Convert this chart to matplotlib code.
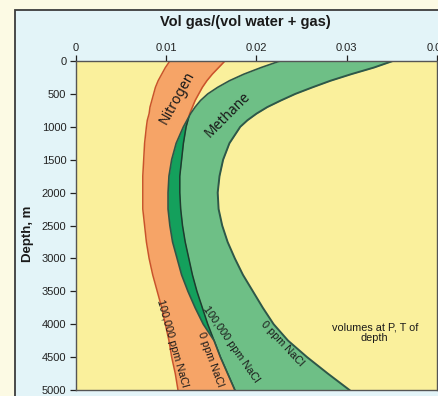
import matplotlib
matplotlib.use("Agg")
import matplotlib.pyplot as plt
from matplotlib.patches import Rectangle
import numpy as np

# Depth (m) and gas volume fraction at that depth for each curve
depth = [0, 100, 200, 300, 400, 500, 600, 700, 800, 900, 1000, 1250, 1500,
         1750, 2000, 2250, 2500, 2750, 3000, 3250, 3500, 3750, 4000, 4250,
         4500, 4750, 5000]
n2_salt = [0.0104, 0.0099, 0.0095, 0.0091, 0.0088, 0.0086, 0.0084, 0.0082,
           0.0081, 0.0079, 0.0078, 0.0076, 0.0075, 0.0074, 0.0074, 0.0074,
           0.0076, 0.0078, 0.0081, 0.0085, 0.0090, 0.0095, 0.0099, 0.0103,
           0.0106, 0.0110, 0.0113]
n2_fresh = [0.0165, 0.0158, 0.0151, 0.0145, 0.0140, 0.0136, 0.0132, 0.0129,
            0.0126, 0.0124, 0.0122, 0.0119, 0.0117, 0.0115, 0.0115, 0.0116,
            0.0118, 0.0121, 0.0125, 0.0129, 0.0134, 0.0140, 0.0146, 0.0153,
            0.0160, 0.0168, 0.0176]
ch4_salt = [0.0226, 0.0205, 0.0186, 0.0170, 0.0157, 0.0146, 0.0138, 0.0132,
            0.0127, 0.0123, 0.0119, 0.0111, 0.0106, 0.0103, 0.0102, 0.0102,
            0.0104, 0.0107, 0.0112, 0.0117, 0.0124, 0.0132, 0.0141, 0.0153,
            0.0160, 0.0168, 0.0176]
ch4_fresh = [0.0351, 0.0330, 0.0305, 0.0282, 0.0262, 0.0243, 0.0227, 0.0212,
             0.0200, 0.0190, 0.0182, 0.0170, 0.0163, 0.0159, 0.0157, 0.0158,
             0.0162, 0.0168, 0.0176, 0.0185, 0.0196, 0.0207, 0.0219, 0.0235,
             0.0256, 0.0279, 0.0303]

x_ticks = [0, 0.01, 0.02, 0.03, 0.04]
x_tick_labels = ["0", "0.01", "0.02", "0.03", "0.04"]
y_ticks = [0, 500, 1000, 1500, 2000, 2500, 3000, 3500, 4000, 4500, 5000]

plt.rcParams['font.family'] = ['Liberation Sans', 'DejaVu Sans']

W, H = 439, 396
fig = plt.figure(figsize=(W / 100, H / 100), dpi=100, facecolor='#FCFAE4')

# light blue panel behind the chart
panel = Rectangle((15 / W, -0.1), 1.0, 1 - 10 / H + 0.1,
                  transform=fig.transFigure, facecolor='#E3F4F8',
                  edgecolor='#3C3C3C', lw=1.3, zorder=-5)
fig.patches.append(panel)

ax = fig.add_axes([76 / W, 6 / H, (437 - 76) / W, (390 - 61) / H])
ax.set_zorder(5)
ax.set_facecolor('#FAF09C')
ax.set_xlim(0, 0.04)
ax.set_ylim(5000, 0)

orange = '#F6A467'
n2_edge = '#C9532C'
green = '#6EBF86'
dark_green = '#14A05C'
ch4_edge = '#2E5748'

ax.fill_betweenx(depth, n2_salt, n2_fresh, color=orange, lw=0, zorder=1)
ax.plot(n2_salt, depth, color=n2_edge, lw=1.1, zorder=2)
ax.plot(n2_fresh, depth, color=n2_edge, lw=1.1, zorder=2)

ch4_band = ax.fill_betweenx(depth, ch4_salt, ch4_fresh, color=green, lw=0,
                            zorder=3)
cs = np.array(ch4_salt)
nf = np.array(n2_fresh)
ax.fill_betweenx(depth, cs, nf, where=cs < nf, interpolate=True,
                 color=dark_green, lw=0, zorder=4)
inner, = ax.plot(n2_fresh, depth, color='#1F3B2E', lw=1.1, zorder=5)
inner.set_clip_path(ch4_band.get_paths()[0], ax.transData)
ax.plot(ch4_salt, depth, color=ch4_edge, lw=1.2, zorder=6)
ax.plot(ch4_fresh, depth, color=ch4_edge, lw=1.4, zorder=6)

for s in ax.spines.values():
    s.set_color('#555555')
    s.set_linewidth(1.0)
    s.set_zorder(7)

ax.xaxis.tick_top()
ax.set_xticks(x_ticks)
ax.set_xticklabels(x_tick_labels)
ax.set_yticks(y_ticks)
ax.set_yticklabels([str(v) for v in y_ticks])
ax.tick_params(axis='both', labelsize=8, colors='#222222', length=4,
               width=0.9, pad=3, direction='out')
ax.tick_params(axis='x', pad=2)

fig.text(245 / W, 1 - 22 / H, 'Vol gas/(vol water + gas)', ha='center',
         va='center', fontsize=10.5, fontweight='bold', color='#1A1A1A')
fig.text(28 / W, 1 - 234 / H, 'Depth, m', ha='center', va='center',
         rotation=90, fontsize=9.5, fontweight='bold', color='#1A1A1A')

hand = ['Noto Sans', 'DejaVu Sans']
ax.text(0.0112, 560, 'Nitrogen', rotation=61, ha='center', va='center',
        fontsize=10, family=hand, color='#1A1A1A', zorder=8)
ax.text(0.0168, 820, 'Methane', rotation=45, ha='center', va='center',
        fontsize=10, family=hand, color='#1A1A1A', zorder=8)

lab = dict(ha='center', va='center', fontsize=7.8, color='#1A1A1A', zorder=8)
ax.text(0.0107, 4290, '100,000 ppm NaCl', rotation=-74, **lab)
ax.text(0.0149, 4540, '0 ppm NaCl', rotation=-70, **lab)
ax.text(0.0172, 4300, '100,000 ppm NaCl', rotation=-55, **lab)
ax.text(0.0228, 4300, '0 ppm NaCl', rotation=-47, **lab)
ax.text(0.0331, 4130, 'volumes at P, T of\ndepth', ha='center', va='center',
        fontsize=7.8, color='#1A1A1A', linespacing=1.0, zorder=8)

fig.savefig('out.png', dpi=100, facecolor=fig.get_facecolor())
